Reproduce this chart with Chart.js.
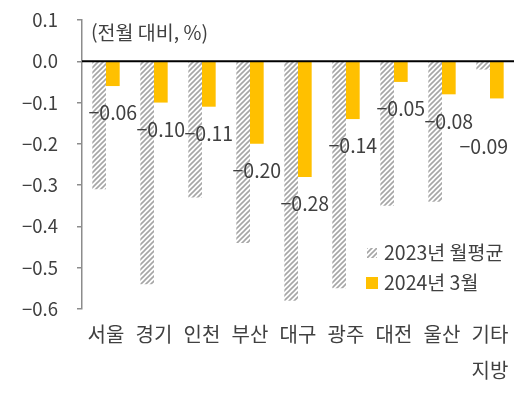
<!DOCTYPE html>
<html lang="ko">
<head>
  <meta charset="UTF-8">
  <title>지역별 변동률</title>
  <script src="https://cdn.jsdelivr.net/npm/chart.js"></script>
  <style>
    html, body { margin: 0; padding: 0; background: #fff; }
    #wrap { width: 531px; height: 397px; }
  </style>
</head>
<body>
  <div id="wrap"><canvas id="chart"></canvas></div>

  <script>
    // 데이터
    const regions = ['서울', '경기', '인천', '부산', '대구', '광주', '대전', '울산', ['기타', '지방']];
    const avg2023 = [-0.31, -0.54, -0.33, -0.44, -0.58, -0.55, -0.35, -0.34, -0.02];
    const mar2024 = [-0.06, -0.10, -0.11, -0.20, -0.28, -0.14, -0.05, -0.08, -0.09];
    const seriesNames = ['2023년 월평균', '2024년 3월'];
    const unitNote = '(전월 대비, %)';

    const FONT = '"Noto Sans CJK KR", "Noto Sans", sans-serif';
    const TEXT = '#404040';

    // 빗금 패턴
    function makeHatch() {
      const c = document.createElement('canvas');
      c.width = 5; c.height = 5;
      const g = c.getContext('2d');
      g.fillStyle = '#ffffff';
      g.fillRect(0, 0, 5, 5);
      g.strokeStyle = '#a6a6a6';
      g.lineWidth = 1.6;
      g.beginPath();
      g.moveTo(-1, 6); g.lineTo(6, -1);
      g.moveTo(-1, 1); g.lineTo(1, -1);
      g.moveTo(4, 6); g.lineTo(6, 4);
      g.stroke();
      return g.createPattern(c, 'repeat');
    }
    const hatch = makeHatch();
    const gold = '#FFC000';

    const minus = s => s.replace('-', '\u2212');

    // 0 기준선, 단위 표기, 범례, 값 표시
    const extras = {
      id: 'extras',
      afterDatasetsDraw(chart) {
        const { ctx, chartArea, scales } = chart;
        const y0 = scales.y.getPixelForValue(0);
        ctx.save();
        ctx.strokeStyle = '#000';
        ctx.lineWidth = 2;
        ctx.beginPath();
        ctx.moveTo(chartArea.left, y0);
        ctx.lineTo(chartArea.right, y0);
        ctx.stroke();

        ctx.font = '19.5px ' + FONT;
        ctx.fillStyle = TEXT;
        ctx.textBaseline = 'middle';
        ctx.textAlign = 'left';
        ctx.fillText(unitNote, chartArea.left + 9, 33);

        // 2024년 3월 값
        const meta = chart.getDatasetMeta(1);
        ctx.textAlign = 'center';
        meta.data.forEach((bar, i) => {
          let dx = 0, dy = 27;
          if (i === mar2024.length - 1) { dx = -13; dy = 48; }
          ctx.fillText(minus(mar2024[i].toFixed(2)), bar.x + dx, bar.y + dy);
        });

        // 범례
        const lx = 366, ly = 253;
        chart.data.datasets.forEach((ds, i) => {
          const yy = ly + i * 30;
          ctx.fillStyle = ds.backgroundColor;
          if (i === 0) ctx.fillRect(lx + 1, yy - 5, 10, 10);
          else ctx.fillRect(lx, yy - 6, 12, 12);
          ctx.fillStyle = TEXT;
          ctx.textAlign = 'left';
          ctx.fillText(ds.label, lx + 18, yy);
        });
        ctx.restore();
      }
    };

    new Chart(document.getElementById('chart'), {
      type: 'bar',
      data: {
        labels: regions,
        datasets: [
          { label: seriesNames[0], data: avg2023, backgroundColor: hatch },
          { label: seriesNames[1], data: mar2024, backgroundColor: gold }
        ]
      },
      options: {
        responsive: true,
        maintainAspectRatio: false,
        animation: false,
        layout: { padding: { top: 20, right: 17, left: 0, bottom: 0 } },
        datasets: { bar: { categoryPercentage: 0.57, barPercentage: 1.0 } },
        plugins: { legend: { display: false }, tooltip: { enabled: false } },
        scales: {
          x: {
            grid: { display: false, drawTicks: false },
            border: { display: false },
            ticks: {
              color: TEXT,
              font: { family: FONT, size: 20, lineHeight: 1.8 },
              padding: 7,
              maxRotation: 0,
              autoSkip: false
            },
            afterFit(scale) { scale.height = 88; }
          },
          y: {
            min: -0.6,
            max: 0.1,
            grid: { drawOnChartArea: false, drawTicks: true, tickLength: 5, color: '#8c8c8c', lineWidth: 1.5 },
            border: { display: true, color: '#8c8c8c', width: 1.5 },
            ticks: {
              stepSize: 0.1,
              color: TEXT,
              padding: 19,
              font: { family: FONT, size: 18.5 },
              callback: v => minus((Math.round(v * 10) / 10).toFixed(1)).replace('\u22120.0', '0.0')
            },
            afterFit(scale) {
              scale.width = 82;
              scale.paddingTop = 0;
              scale.paddingBottom = 0;
            }
          }
        }
      },
      plugins: [extras]
    });
  </script>
</body>
</html>
